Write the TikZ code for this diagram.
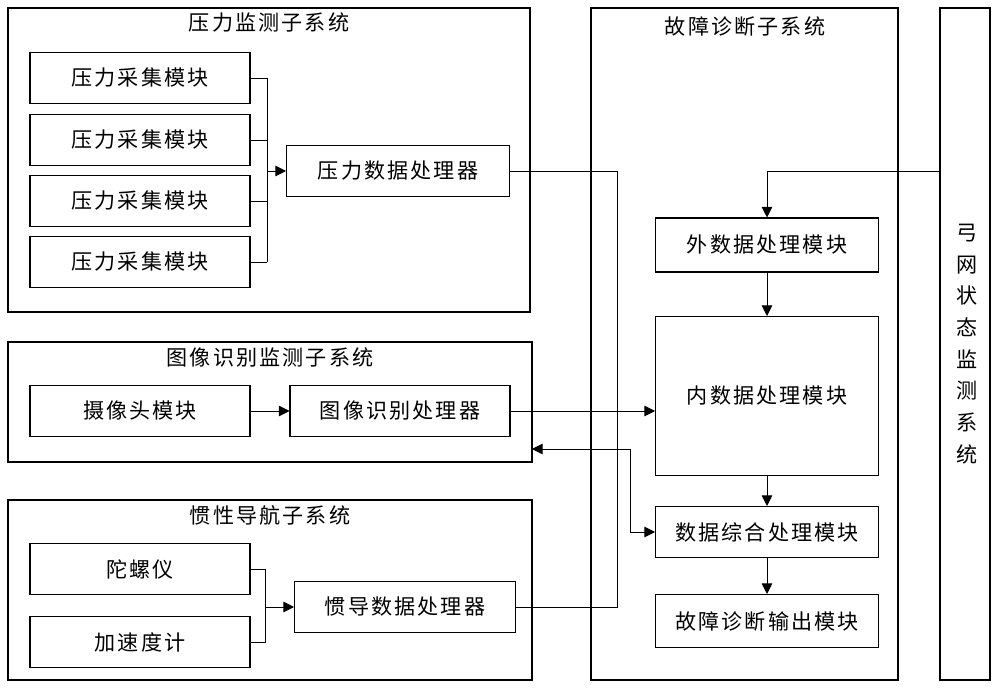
\documentclass[tikz,border=0pt]{standalone}
\usepackage{fontspec}
\newfontfamily\cjk[LetterSpace=10]{Noto Sans CJK SC}
\usetikzlibrary{arrows.meta, positioning, calc}
\tikzset{
  frame/.style={draw, line width=0.6pt},
  box/.style={draw, line width=0.6pt, minimum height=1.02cm, font=\cjk\fontsize{12}{14}\selectfont},
  title/.style={font=\cjk\fontsize{12}{14}\selectfont},
  link/.style={draw, line width=0.5pt},
  arr/.style={link, -{Triangle[length=6pt, width=6pt]}}
}
\begin{document}
\begin{tikzpicture}[x=0.02cm, y=-0.02cm]
        \useasboundingbox (0,0) rectangle (1000,688);
        % Pressure subsystem
        \draw[frame] (8,8) rectangle (530,312);
        \node[title] (ptitle) at (269,22) {压力监测子系统};
        \node[box, minimum width=4.4cm] (p1) at (140,78) {压力采集模块};
        \node[box, minimum width=4.4cm] (p2) at (140,140) {压力采集模块};
        \node[box, minimum width=4.4cm] (p3) at (140,201) {压力采集模块};
        \node[box, minimum width=4.4cm] (p4) at (140,262) {压力采集模块};
        \node[box, minimum width=4.46cm] (pproc) at (398,171) {压力数据处理器};
        \coordinate (pj) at (267,171);
        \foreach \m in {p1,p2,p3,p4}
          \draw[link] (\m.east) -- (\m.east -| pj);
        \draw[link] (p1.east -| pj) -- (p4.east -| pj);
        \draw[arr] (pj) -- (pproc.west);
        % Image recognition subsystem
        \draw[frame] (8,342) rectangle (532,462);
        \node[title] (ititle) at (270,357) {图像识别监测子系统};
        \node[box, minimum width=4.4cm] (cam) at (140,411) {摄像头模块};
        \node[box, minimum width=4.4cm] (iproc) at (400,411) {图像识别处理器};
        \draw[arr] (cam) -- (iproc);
        \coordinate (iedge) at (532,449);
        % Inertial navigation subsystem
        \draw[frame] (8,500) rectangle (532,680);
        \node[title] (ntitle) at (270,515) {惯性导航子系统};
        \node[box, minimum width=4.4cm] (gyro) at (140,569) {陀螺仪};
        \node[box, minimum width=4.4cm] (acc) at (140,642) {加速度计};
        \node[box, minimum width=4.42cm] (nproc) at (405,607) {惯导数据处理器};
        \coordinate (nj) at (265,607);
        \draw[link] (gyro.east) -- (gyro.east -| nj) -- (acc.east -| nj) -- (acc.east);
        \draw[arr] (nj) -- (nproc.west);
        % Fault diagnosis subsystem
        \draw[frame] (591,8) rectangle (898,680);
        \node[title] (ftitle) at (745,27) {故障诊断子系统};
        \node[box, minimum width=4.46cm, minimum height=1.08cm] (outer) at (767,245) {外数据处理模块};
        \node[box, minimum width=4.46cm, minimum height=3.18cm] (inner) at (767,396) {内数据处理模块};
        \node[box, minimum width=4.46cm] (fuse) at (767,532) {数据综合处理模块};
        \node[box, minimum width=4.46cm, minimum height=1.06cm] (diag) at (767,621) {故障诊断输出模块};
        \draw[arr] (outer) -- (inner);
        \draw[arr] (inner) -- (fuse);
        \draw[arr] (fuse) -- (diag);
        % Pantograph-catenary monitoring system
        \draw[frame] (940,8) rectangle (990,680);
        \node[title, align=center, text width=1em] (sys) at (965,344)
          {弓\\[4pt]网\\[4pt]状\\[4pt]态\\[4pt]监\\[4pt]测\\[4pt]系\\[4pt]统};
        % Connections
        \coordinate (bus) at (617,171);
        \draw[link] (pproc.east) -- (bus) -- (bus |- nproc.east) -- (nproc.east);
        \draw[arr] (iproc.east) -- (iproc.east -| inner.west);
        \coordinate (fj) at (630,449);
        \draw[arr] (fj) -- (iedge);
        \draw[arr] (fj) |- (fuse.west);
        \coordinate (sj) at (940,171);
        \draw[arr] (sj) -| (outer.north);
\end{tikzpicture}
\end{document}
